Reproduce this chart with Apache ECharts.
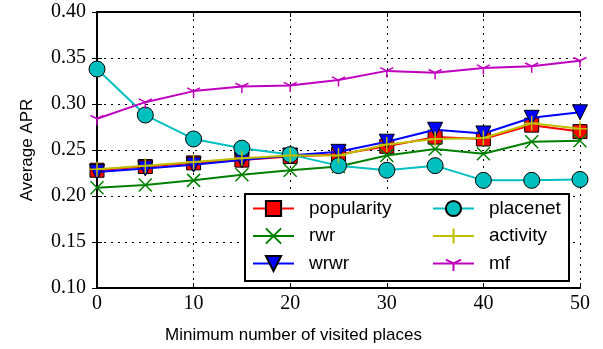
<!DOCTYPE html>
<html>
<head>
<meta charset="utf-8">
<script src="https://cdn.jsdelivr.net/npm/echarts@6/dist/echarts.min.js"></script>
<style>
  html, body { margin: 0; padding: 0; background: #fff; }
  #chart { width: 603px; height: 349px; }
</style>
</head>
<body>
<div id="chart"></div>
<script>
// Minimum number of visited places (x) vs. Average APR (y) for each method
const minVisited = [0, 5, 10, 15, 20, 25, 30, 35, 40, 45, 50];

const popularity = [0.228, 0.232, 0.236, 0.239, 0.243, 0.245, 0.254, 0.264, 0.262, 0.277, 0.270];
const rwr        = [0.209, 0.212, 0.217, 0.223, 0.228, 0.232, 0.244, 0.251, 0.246, 0.259, 0.260];
const wrwr       = [0.226, 0.230, 0.234, 0.239, 0.244, 0.248, 0.259, 0.272, 0.268, 0.285, 0.291];
const placenet   = [0.338, 0.288, 0.262, 0.252, 0.245, 0.233, 0.228, 0.233, 0.217, 0.217, 0.218];
const activity   = [0.229, 0.233, 0.237, 0.241, 0.244, 0.244, 0.256, 0.262, 0.263, 0.279, 0.273];
const mf         = [0.284, 0.302, 0.314, 0.319, 0.320, 0.326, 0.336, 0.334, 0.339, 0.341, 0.347];

const seriesNames = ['popularity', 'rwr', 'wrwr', 'placenet', 'activity', 'mf'];
const seriesValues = [popularity, rwr, wrwr, placenet, activity, mf];

const yTicks = { min: 0.10, max: 0.40, step: 0.05 };
const xTicks = { min: 0, max: 50, step: 10 };

// marker shapes
const CROSS = 'path://M0,0L10,10M10,0L0,10';
const PLUS = 'path://M5,0L5,10M0,5L10,5';
const TRI_DOWN = 'path://M0,0L2,0L1,2Z';
// Y-shaped marker; the zero-length segment at the top keeps the hub centred
const TRI_Y = 'path://M0,-1L0,-1M0,0L0,1M0,0L-0.866,-0.5M0,0L0.866,-0.5';

const styles = {
  popularity: { color: '#ff0000', symbol: 'rect', size: 14, edge: '#000', bw: 1 },
  rwr:        { color: '#008000', symbol: CROSS, size: 13, edge: '#008000', bw: 1.5 },
  wrwr:       { color: '#0000ff', symbol: TRI_DOWN, size: 15, edge: '#000', bw: 1 },
  placenet:   { color: '#00bfbf', symbol: 'circle', size: 16, edge: '#000', bw: 1 },
  activity:   { color: '#bfbf00', symbol: PLUS, size: 15, edge: '#bfbf00', bw: 1.5 },
  mf:         { color: '#bf00bf', symbol: TRI_Y, size: 13, edge: '#bf00bf', bw: 1.5 }
};

const series = seriesNames.map((name, i) => {
  const s = styles[name];
  return {
    name: name,
    type: 'line',
    data: minVisited.map((x, j) => [x, seriesValues[i][j]]),
    symbol: s.symbol,
    symbolSize: s.size,
    showAllSymbol: true,
    lineStyle: { color: s.color, width: 2 },
    itemStyle: { color: s.color, borderColor: s.edge, borderWidth: s.bw, opacity: 1 },
    emphasis: { disabled: true },
    z: 2 + i * 0.01
  };
});

const frame = { color: '#000', width: 2 };
const tickFont = { fontFamily: 'Liberation Serif', fontSize: 20, color: '#000' };
const titleFont = { fontFamily: 'Liberation Sans', fontSize: 17, color: '#000' };
const legendFont = { fontFamily: 'Liberation Sans', fontSize: 19, color: '#000', padding: [0, 0, 0, 10] };

const chart = echarts.init(document.getElementById('chart'), null, { renderer: 'canvas' });
chart.setOption({
  animation: false,
  backgroundColor: '#fff',
  grid: { left: 97, right: 23, top: 12, bottom: 59 },
  xAxis: [
    {
      type: 'value', min: xTicks.min, max: xTicks.max, interval: xTicks.step,
      name: 'Minimum number of visited places', nameLocation: 'middle', nameGap: 39,
      nameTextStyle: Object.assign({ padding: [0, 90, 0, 0] }, titleFont),
      axisLine: { show: true, lineStyle: frame },
      axisTick: { show: true, inside: true, length: 5, lineStyle: { color: '#000', width: 1 } },
      axisLabel: Object.assign({ margin: 6 }, tickFont),
      splitLine: { show: true, lineStyle: { color: '#000', width: 1, type: [2, 5] } }
    },
    {
      type: 'value', position: 'top', min: xTicks.min, max: xTicks.max, interval: xTicks.step,
      axisLine: { show: true, lineStyle: frame },
      axisTick: { show: true, inside: true, length: 5, lineStyle: { color: '#000', width: 1 } },
      axisLabel: { show: false },
      splitLine: { show: false }
    }
  ],
  yAxis: [
    {
      type: 'value', min: yTicks.min, max: yTicks.max, interval: yTicks.step,
      name: 'Average APR', nameLocation: 'middle', nameGap: 61, nameRotate: 90,
      nameTextStyle: titleFont,
      axisLine: { show: true, lineStyle: frame },
      axisTick: { show: true, inside: true, length: 5, lineStyle: { color: '#000', width: 1 } },
      axisLabel: Object.assign({ margin: 11, formatter: v => v.toFixed(2) }, tickFont),
      splitLine: { show: true, lineStyle: { color: '#000', width: 1, type: [2, 5] } }
    },
    {
      type: 'value', position: 'right', min: yTicks.min, max: yTicks.max, interval: yTicks.step,
      axisLine: { show: true, lineStyle: frame },
      axisTick: { show: true, inside: true, length: 5, lineStyle: { color: '#000', width: 1 } },
      axisLabel: { show: false },
      splitLine: { show: false }
    }
  ],
  legend: [
    {
      data: seriesNames.slice(0, 3), orient: 'vertical', left: 252, top: 199,
      padding: 0, itemWidth: 41, itemHeight: 19, itemGap: 8.5,
      textStyle: legendFont, selectedMode: false, z: 5
    },
    {
      data: seriesNames.slice(3), orient: 'vertical', left: 432, top: 199,
      padding: 0, itemWidth: 41, itemHeight: 19, itemGap: 8.5,
      textStyle: legendFont, selectedMode: false, z: 5
    }
  ],
  graphic: [
    {
      type: 'rect', left: 244, top: 193, z: 4,
      shape: { width: 324, height: 87 },
      style: { fill: '#fff', stroke: '#000', lineWidth: 2 }
    }
  ],
  series: series
});
</script>
</body>
</html>
